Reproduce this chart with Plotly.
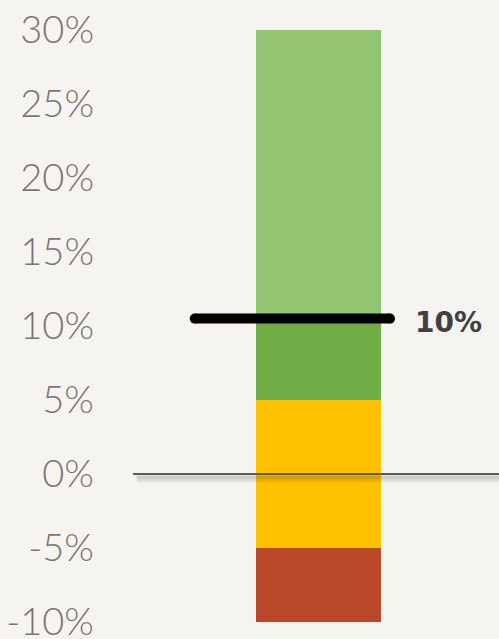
import plotly.graph_objects as go

# ---- data ----
band_names = ["Poor", "Fair", "Good", "Excellent"]
band_low = [-10, -5, 5, 10.2]
band_high = [-5, 5, 10.2, 30]
band_colors = ["#b9482b", "#ffc000", "#70ad47", "#92c572"]

marker_value = 10.5
marker_label = "10%"

tick_values = [-10, -5, 0, 5, 10, 15, 20, 25, 30]
tick_labels = ["-10%", "-5%", "0%", "5%", "10%", "15%", "20%", "25%", "30%"]

bg = "#f6f4f0"

fig = go.Figure()

for name, lo, hi, col in zip(band_names, band_low, band_high, band_colors):
    fig.add_trace(go.Bar(
        x=[0], y=[hi - lo], base=[lo], width=[1],
        marker=dict(color=col, line=dict(width=0)),
        name=name, showlegend=False, hoverinfo="skip",
    ))

# target marker line (rounded ends via markers)
fig.add_trace(go.Scatter(
    x=[-0.99, 0.572], y=[marker_value, marker_value],
    mode="lines+markers",
    line=dict(color="#000000", width=10),
    marker=dict(color="#000000", size=10, line=dict(width=0)),
    showlegend=False, hoverinfo="skip",
))

fig.add_annotation(
    x=0.755, y=marker_value, text=f"<b>{marker_label}</b>",
    showarrow=False, xanchor="left", yanchor="middle", yshift=-4,
    font=dict(family="DejaVu Sans", size=28, color="#404040"),
)

# zero line with soft shadow
for off, w, a in [(-0.32, 8, 0.05), (-0.28, 5, 0.06), (-0.22, 3, 0.06)]:
    fig.add_shape(type="line", xref="paper", yref="y", x0=0.01, x1=1,
                  y0=off, y1=off, line=dict(color=f"rgba(0,0,0,{a})", width=w),
                  layer="above")
fig.add_shape(type="line", xref="paper", yref="y", x0=0, x1=1, y0=0, y1=0,
              line=dict(color="#5a5a5a", width=2), layer="above")

fig.update_layout(
    width=499, height=639,
    margin=dict(l=133, r=0, t=30, b=17, autoexpand=False),
    paper_bgcolor=bg, plot_bgcolor=bg,
    barmode="overlay",
    xaxis=dict(range=[-1.484, 1.444], visible=False, fixedrange=True,
               automargin=False),
    yaxis=dict(
        range=[-10, 30], tickvals=tick_values, ticktext=tick_labels,
        showgrid=False, zeroline=False, showline=False, ticks="",
        ticklabelstandoff=38, ticklabeloverflow="allow", automargin=False,
        tickfont=dict(family="Lato", size=38, color="#7a7672", weight=300),
        fixedrange=True,
    ),
)

fig.write_html(
    "out.html",
    config={"displayModeBar": False, "staticPlot": True},
    post_script="document.body.style.margin='0';document.body.style.background='%s';" % bg,
)
